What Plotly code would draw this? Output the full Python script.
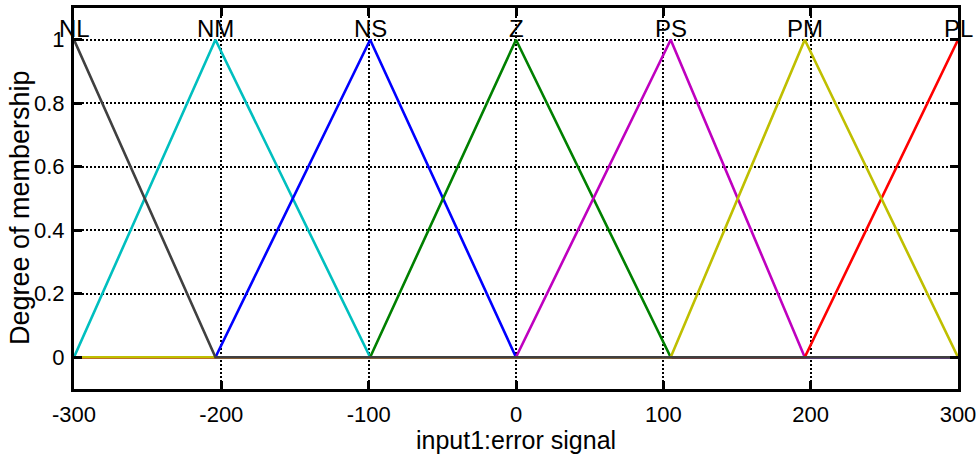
import plotly.graph_objects as go

# Triangular membership functions for input1 (error signal)
mf_names = ["NL", "NM", "NS", "Z", "PS", "PM", "PL"]
mf_left = [-400, -300, -204, -99, 0, 105, 196]
mf_peak = [-300, -204, -99, 0, 105, 196, 300]
mf_right = [-204, -99, 0, 105, 196, 300, 400]
mf_colors = ["#404040", "#00bfbf", "#0000ff", "#008000", "#bf00bf", "#bfbf00", "#ff0000"]

x_range = [-300, 300]
x_ticks = [-300, -200, -100, 0, 100, 200, 300]
y_ticks = [0, 0.2, 0.4, 0.6, 0.8, 1]
y_tick_text = ["0", "0.2", "0.4", "0.6", "0.8", "1"]

FONT = "Liberation Sans, Arial, sans-serif"


def trimf(x, a, b, c):
    if x == b:
        return 1.0
    if x <= a or x >= c:
        return 0.0
    if x < b:
        return (x - a) / (b - a)
    return (c - x) / (c - b)


fig = go.Figure()

# draw order controls which zero segment ends up on top along the baseline
order = [1, 2, 3, 4, 6, 5, 0]
for i in order:
    a, b, c = mf_left[i], mf_peak[i], mf_right[i]
    xs = sorted(set([x_range[0], x_range[1]] + [v for v in (a, b, c) if x_range[0] <= v <= x_range[1]]))
    ys = [trimf(v, a, b, c) for v in xs]
    fig.add_trace(go.Scatter(
        x=xs, y=ys, mode="lines", name=mf_names[i],
        line=dict(color=mf_colors[i], width=2.6),
        showlegend=False, hoverinfo="skip",
    ))

for name, peak in zip(mf_names, mf_peak):
    fig.add_annotation(
        x=peak, y=1, xref="x", yref="y", text=name, showarrow=False,
        yanchor="bottom", yshift=-4,
        font=dict(family=FONT, size=24, color="black"),
    )

fig.add_annotation(
    x=0.5, y=-0.134, xref="paper", yref="paper", text="input1:error signal",
    showarrow=False, yanchor="middle",
    font=dict(family=FONT, size=25, color="black"),
)
fig.add_annotation(
    x=-0.061, y=0.475, xref="paper", yref="paper", text="Degree of membership",
    showarrow=False, textangle=-90, xanchor="center", yanchor="middle",
    font=dict(family=FONT, size=27, color="black"),
)

axis_common = dict(
    showline=True, linecolor="black", linewidth=3, mirror="ticks",
    ticks="inside", ticklen=8, tickwidth=3, tickcolor="black",
    showgrid=True, gridcolor="black", gridwidth=1.5, griddash="2px,2px",
    zeroline=False, automargin=False,
    tickfont=dict(family=FONT, size=22, color="black"),
)

fig.update_xaxes(
    range=x_range, tickvals=x_ticks, ticktext=[str(v) for v in x_ticks],
    ticklabelstandoff=4, **axis_common,
)
fig.update_yaxes(
    range=[-0.1, 1.1], tickvals=y_ticks, ticktext=y_tick_text,
    ticklabelstandoff=2, **axis_common,
)

fig.update_layout(
    width=979, height=460,
    margin=dict(l=74, r=21, t=8, b=71),
    plot_bgcolor="white", paper_bgcolor="white",
)

fig.write_html("out.html")
